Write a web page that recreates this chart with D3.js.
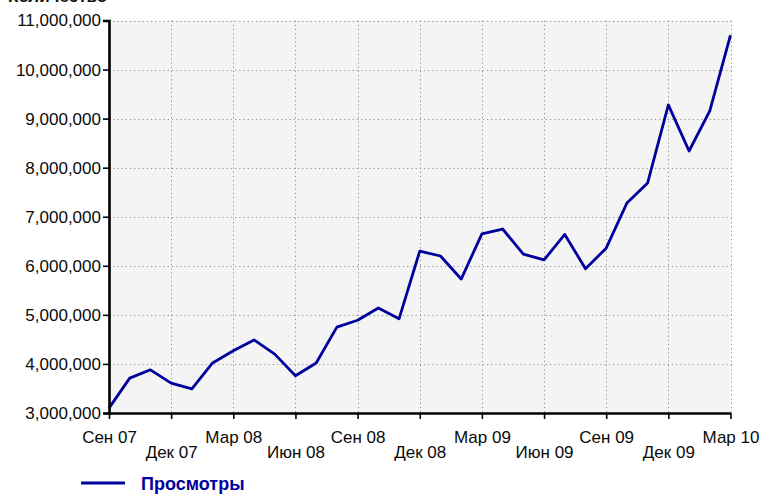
<!DOCTYPE html>
<html>
<head>
<meta charset="utf-8">
<script src="https://cdn.jsdelivr.net/npm/d3@7"></script>
<style>
  html, body { margin: 0; padding: 0; background: #ffffff; }
  svg { display: block; }
  text { font-family: "Liberation Sans", Arial, sans-serif; }
</style>
</head>
<body>
<svg id="chart" width="761" height="494"></svg>
<script>
// Monthly page views, Sep 2007 – Mar 2010
const months = [
  "Сен 07","Окт 07","Ноя 07","Дек 07","Янв 08","Фев 08","Мар 08","Апр 08","Май 08",
  "Июн 08","Июл 08","Авг 08","Сен 08","Окт 08","Ноя 08","Дек 08","Янв 09","Фев 09",
  "Мар 09","Апр 09","Май 09","Июн 09","Июл 09","Авг 09","Сен 09","Окт 09","Ноя 09",
  "Дек 09","Янв 10","Фев 10","Мар 10"
];
const views = [
  3100000, 3710000, 3880000, 3610000, 3490000, 4020000, 4270000, 4490000, 4200000,
  3760000, 4020000, 4750000, 4890000, 5140000, 4920000, 6300000, 6200000, 5730000,
  6650000, 6750000, 6240000, 6120000, 6640000, 5940000, 6360000, 7280000, 7690000,
  9280000, 8340000, 9160000, 10700000
];
const seriesName = "Просмотры";
const axisTitle = "Количество";
const xTickLabels = ["Сен 07","Дек 07","Мар 08","Июн 08","Сен 08","Дек 08","Мар 09","Июн 09","Сен 09","Дек 09","Мар 10"];
const yTicks = [3000000, 4000000, 5000000, 6000000, 7000000, 8000000, 9000000, 10000000, 11000000];

const svg = d3.select("#chart");
const margin = { left: 109, top: 20.5, right: 30.5, bottom: 81 };
const W = 761, H = 494;
const x0 = margin.left, x1 = W - margin.right;
const y0 = H - margin.bottom, y1 = margin.top;

const x = d3.scalePoint().domain(months).range([x0, x1]).padding(0);
const y = d3.scaleLinear().domain([3000000, 11000000]).range([y0, y1]);

// plot background
svg.append("rect")
  .attr("x", x0).attr("y", y1)
  .attr("width", x1 - x0).attr("height", y0 - y1)
  .attr("fill", "#f4f4f4");

// dotted grid
const grid = svg.append("g")
  .attr("stroke", "#909090").attr("stroke-width", 1)
  .attr("stroke-dasharray", "1.2,3").attr("fill", "none");
grid.selectAll("line.h").data(yTicks).join("line")
  .attr("class", "h")
  .attr("x1", x0).attr("x2", x1 + 1)
  .attr("y1", d => Math.round(y(d)) + 0.5).attr("y2", d => Math.round(y(d)) + 0.5);
grid.selectAll("line.v").data(xTickLabels.slice(1)).join("line")
  .attr("class", "v")
  .attr("x1", d => Math.round(x(d)) + 0.5).attr("x2", d => Math.round(x(d)) + 0.5)
  .attr("y1", y1).attr("y2", y0);

// series line
const line = d3.line()
  .x((d, i) => x(months[i]))
  .y(d => y(d));
svg.append("path")
  .datum(views)
  .attr("d", line)
  .attr("fill", "none")
  .attr("stroke", "#00009c")
  .attr("stroke-width", 2.8)
  .attr("stroke-linejoin", "round");

// y axis
const yAxis = svg.append("g")
  .attr("transform", `translate(${x0},0)`)
  .call(d3.axisLeft(y).tickValues(yTicks).tickFormat(d3.format(",")).tickSize(6).tickPadding(2));
yAxis.select(".domain").attr("stroke", "#000").attr("stroke-width", 2.6);
yAxis.selectAll(".tick line").attr("stroke", "#000").attr("stroke-width", 1.6);
yAxis.selectAll(".tick text")
  .attr("font-family", "'Liberation Sans', Arial, sans-serif")
  .attr("font-size", 17).attr("fill", "#0a0a0a");

// x axis, labels alternating between two rows
const xAxis = svg.append("g")
  .attr("transform", `translate(0,${y0})`)
  .call(d3.axisBottom(x).tickValues(xTickLabels).tickSize(6).tickSizeOuter(0));
xAxis.select(".domain").attr("stroke", "#000").attr("stroke-width", 2.6);
xAxis.selectAll(".tick line").attr("stroke", "#000").attr("stroke-width", 1.6);
xAxis.selectAll(".tick text")
  .attr("font-family", "'Liberation Sans', Arial, sans-serif")
  .attr("font-size", 17).attr("fill", "#0a0a0a")
  .attr("dy", null)
  .attr("y", (d, i) => i % 2 === 0 ? 30 : 45);

// axis title, mostly above the visible area
svg.append("text")
  .attr("x", 8).attr("y", 1.5)
  .attr("font-size", 17).attr("font-weight", "bold").attr("fill", "#111")
  .text(axisTitle);

// legend
const legend = svg.append("g").attr("transform", "translate(81,483)");
legend.append("line")
  .attr("x1", 0).attr("x2", 44).attr("y1", 0).attr("y2", 0)
  .attr("stroke", "#00009c").attr("stroke-width", 2.8);
legend.append("text")
  .attr("x", 60).attr("y", 6.5)
  .attr("font-size", 18).attr("font-weight", "bold").attr("fill", "#00009c")
  .text(seriesName);
</script>
</body>
</html>
